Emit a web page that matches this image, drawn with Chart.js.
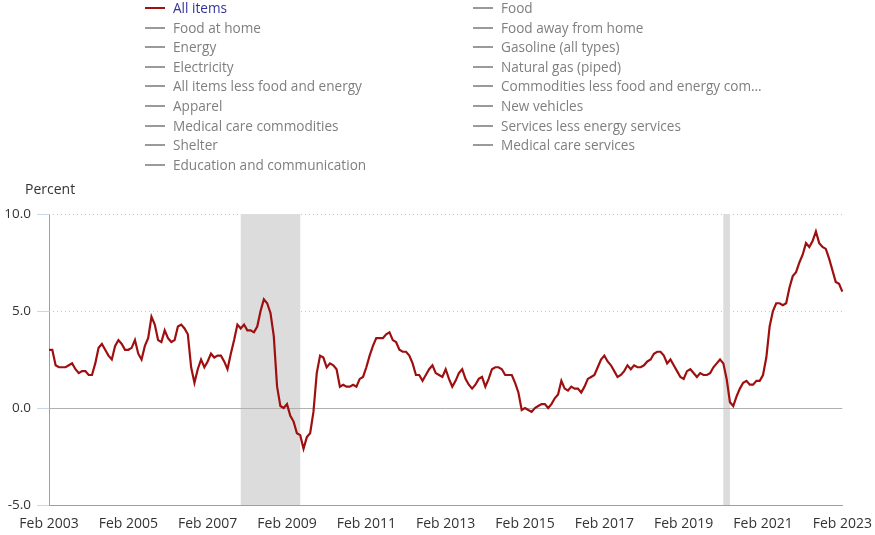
<!DOCTYPE html>
<html>
<head>
<meta charset="utf-8">
<script src="https://cdn.jsdelivr.net/npm/chart.js@4/dist/chart.umd.min.js"></script>
<style>
  body { margin: 0; background: #fff; font-family: "Open Sans", sans-serif; }
  #wrap { position: relative; width: 875px; height: 535px; overflow: hidden; }
  #chart { position: absolute; left: 0; top: 0; }
  .legend { position: absolute; top: -2px; font-size: 13.6px; color: #7f7f7f; }
  .legend div { position: relative; height: 19.6px; line-height: 19.6px; padding-left: 28px; white-space: nowrap; }
  .legend div span { position: absolute; left: 0; top: 9px; width: 20px; height: 2px; background: #9a9a9a; }
  .legend div.active { color: #33339a; }
  .legend div.active span { background: #a01010; }
  #percent { position: absolute; left: 25px; top: 179px; font-size: 14px; color: #333; }
</style>
</head>
<body>
<div id="wrap">
  <canvas id="chart" width="875" height="535"></canvas>
  <div class="legend" id="legLeft" style="left:145px"></div>
  <div class="legend" id="legRight" style="left:473px"></div>
  <div id="percent">Percent</div>
</div>
<script>
// --------------- data -----------------------
const startYear = 2003;
const startMonth = 1; // Feb
const monthNames = ['Jan','Feb','Mar','Apr','May','Jun','Jul','Aug','Sep','Oct','Nov','Dec'];

// all items, 12-month percent change, Feb 2003 .. Feb 2023
const allItems = [
  3.0, 3.0, 2.2, 2.1, 2.1, 2.1, 2.2, 2.3, 2.0, 1.8, 1.9,             // 2003
  1.9, 1.7, 1.7, 2.3, 3.1, 3.3, 3.0, 2.7, 2.5, 3.2, 3.5, 3.3,        // 2004
  3.0, 3.0, 3.1, 3.5, 2.8, 2.5, 3.2, 3.6, 4.7, 4.3, 3.5, 3.4,        // 2005
  4.0, 3.6, 3.4, 3.5, 4.2, 4.3, 4.1, 3.8, 2.1, 1.3, 2.0, 2.5,        // 2006
  2.1, 2.4, 2.8, 2.6, 2.7, 2.7, 2.4, 2.0, 2.8, 3.5, 4.3, 4.1,        // 2007
  4.3, 4.0, 4.0, 3.9, 4.2, 5.0, 5.6, 5.4, 4.9, 3.7, 1.1, 0.1,        // 2008
  0.0, 0.2, -0.4, -0.7, -1.3, -1.4, -2.1, -1.5, -1.3, -0.2, 1.8, 2.7, // 2009
  2.6, 2.1, 2.3, 2.2, 2.0, 1.1, 1.2, 1.1, 1.1, 1.2, 1.1, 1.5,        // 2010
  1.6, 2.1, 2.7, 3.2, 3.6, 3.6, 3.6, 3.8, 3.9, 3.5, 3.4, 3.0,        // 2011
  2.9, 2.9, 2.7, 2.3, 1.7, 1.7, 1.4, 1.7, 2.0, 2.2, 1.8, 1.7,        // 2012
  1.6, 2.0, 1.5, 1.1, 1.4, 1.8, 2.0, 1.5, 1.2, 1.0, 1.2, 1.5,        // 2013
  1.6, 1.1, 1.5, 2.0, 2.1, 2.1, 2.0, 1.7, 1.7, 1.7, 1.3, 0.8,        // 2014
  -0.1, 0.0, -0.1, -0.2, 0.0, 0.1, 0.2, 0.2, 0.0, 0.2, 0.5, 0.7,     // 2015
  1.4, 1.0, 0.9, 1.1, 1.0, 1.0, 0.8, 1.1, 1.5, 1.6, 1.7, 2.1,        // 2016
  2.5, 2.7, 2.4, 2.2, 1.9, 1.6, 1.7, 1.9, 2.2, 2.0, 2.2, 2.1,        // 2017
  2.1, 2.2, 2.4, 2.5, 2.8, 2.9, 2.9, 2.7, 2.3, 2.5, 2.2, 1.9,        // 2018
  1.6, 1.5, 1.9, 2.0, 1.8, 1.6, 1.8, 1.7, 1.7, 1.8, 2.1, 2.3,        // 2019
  2.5, 2.3, 1.5, 0.3, 0.1, 0.6, 1.0, 1.3, 1.4, 1.2, 1.2, 1.4,        // 2020
  1.4, 1.7, 2.6, 4.2, 5.0, 5.4, 5.4, 5.3, 5.4, 6.2, 6.8, 7.0,        // 2021
  7.5, 7.9, 8.5, 8.3, 8.6, 9.1, 8.5, 8.3, 8.2, 7.7, 7.1, 6.5,        // 2022
  6.4, 6.0                                                           // 2023
];

const xTickLabels = ['Feb 2003','Feb 2005','Feb 2007','Feb 2009','Feb 2011','Feb 2013',
                     'Feb 2015','Feb 2017','Feb 2019','Feb 2021','Feb 2023'];
const yTicks = [-5, 0, 5, 10];

// recession periods (shaded)
const recessions = [['Dec 2007', 'Jun 2009'], ['Feb 2020', 'Apr 2020']];

const legendLeft = ['All items','Food at home','Energy','Electricity','All items less food and energy',
                    'Apparel','Medical care commodities','Shelter','Education and communication'];
const legendRight = ['Food','Food away from home','Gasoline (all types)','Natural gas (piped)',
                     'Commodities less food and energy com\u2026','New vehicles',
                     'Services less energy services','Medical care services'];

// --------------- month labels -----------------------
const months = [];
for (let i = 0; i < allItems.length; i++) {
    const m = startMonth + i;
    months.push(monthNames[m % 12] + ' ' + (startYear + Math.floor(m / 12)));
}

// --------------- legend -----------------------
function fillLegend(id, names) {
    const el = document.getElementById(id);
    for (const name of names) {
        const row = document.createElement('div');
        if (name === 'All items') row.className = 'active';
        row.innerHTML = '<span></span>' + name;
        el.appendChild(row);
    }
}
fillLegend('legLeft', legendLeft);
fillLegend('legRight', legendRight);

// --------------- background: grid, recessions, zero line -----------------------
const backdrop = {
    id: 'backdrop',
    beforeDatasetsDraw(chart) {
        const {ctx, chartArea: a, scales: {x, y}} = chart;
        ctx.save();
        ctx.lineWidth = 1;
        ctx.strokeStyle = '#c4c4c4';
        ctx.setLineDash([1, 3]);
        for (const v of yTicks) {
            if (v <= 0) continue;
            const py = Math.round(y.getPixelForValue(v)) + 0.5;
            ctx.beginPath();
            ctx.moveTo(a.left, py);
            ctx.lineTo(a.right, py);
            ctx.stroke();
        }
        ctx.setLineDash([]);
        ctx.fillStyle = '#dcdcdc';
        for (const [from, to] of recessions) {
            const x1 = x.getPixelForValue(months.indexOf(from));
            const x2 = x.getPixelForValue(months.indexOf(to));
            ctx.fillRect(x1, a.top, x2 - x1, a.bottom - a.top);
        }
        const zy = Math.round(y.getPixelForValue(0)) + 0.5;
        ctx.strokeStyle = '#b0b0b0';
        ctx.beginPath();
        ctx.moveTo(a.left, zy);
        ctx.lineTo(a.right, zy);
        ctx.stroke();
        ctx.restore();
    }
};

// --------------- chart -----------------------
const ctx = document.getElementById('chart').getContext('2d');
const myChart = new Chart(ctx, {
    type: 'line',
    data: {
        labels: months,
        datasets: [{
            label: 'All items',
            data: allItems,
            borderColor: '#9e1010',
            borderWidth: 2.2,
            pointRadius: 0,
            tension: 0,
            fill: false
        }]
    },
    options: {
        responsive: false,
        animation: false,
        layout: { padding: { top: 214, right: 32, left: 0, bottom: 0 } },
        plugins: {
            legend: { display: false },
            tooltip: { enabled: false }
        },
        scales: {
            x: {
                type: 'category',
                offset: false,
                afterFit: s => { s.height = 30; },
                grid: { display: false },
                border: { display: true, color: '#a0a0a0', width: 1 },
                ticks: {
                    autoSkip: false,
                    maxRotation: 0,
                    padding: 3,
                    color: '#333',
                    font: { family: '"Open Sans", sans-serif', size: 14 },
                    callback: (v, i) => xTickLabels.includes(months[i]) ? months[i] : null
                }
            },
            y: {
                min: -5,
                max: 10,
                afterFit: s => { s.width = 49; },
                afterBuildTicks: s => { s.ticks = yTicks.map(v => ({value: v})); },
                grid: {
                    drawOnChartArea: false,
                    drawTicks: true,
                    tickLength: 12,
                    tickColor: '#ccd6eb'
                },
                border: { display: true, color: '#a0a0a0', width: 1 },
                ticks: {
                    padding: 6,
                    color: '#333',
                    font: { family: '"Open Sans", sans-serif', size: 13.5 },
                    callback: v => v.toFixed(1)
                }
            }
        }
    },
    plugins: [backdrop]
});
</script>
</body>
</html>
